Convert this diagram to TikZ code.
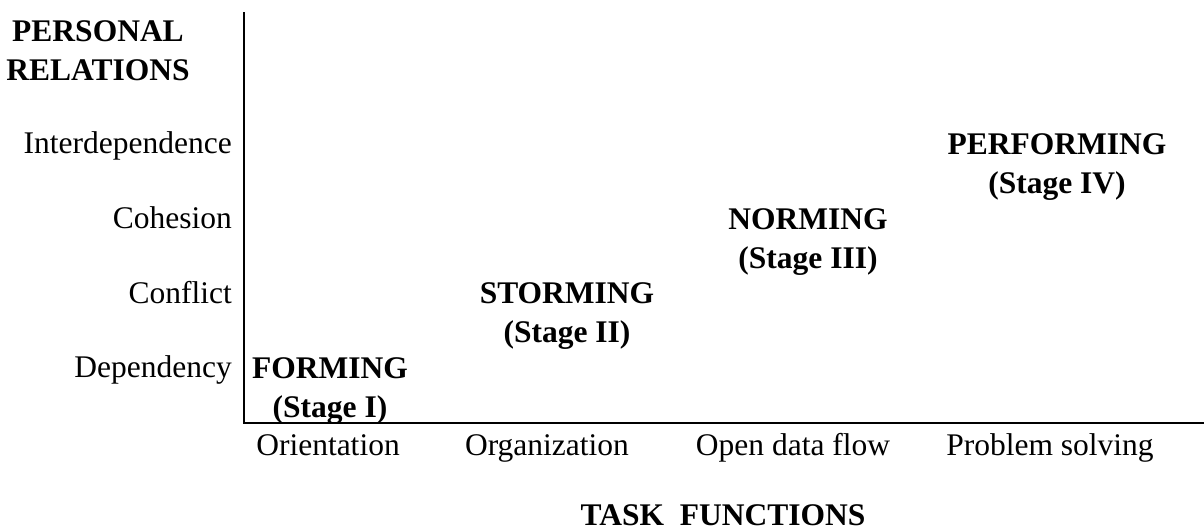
\documentclass[tikz,border=0pt]{standalone}
\usepackage{fontspec}
\setmainfont{Liberation Serif}[BoldFont={Liberation Serif Bold}, ItalicFont={Liberation Serif Italic}]
\usepackage{tikz}
\usetikzlibrary{calc}
\tikzstyle{lbl} = [inner sep=0pt, font=\fontsize{31.5}{39}\selectfont]
\tikzstyle{stage} = [lbl, align=center, anchor=north, font=\fontsize{31.5}{39}\selectfont\bfseries]
\tikzset{
  % axis styles
  axis/.style={draw, line width=2pt},
  % label styles
  level/.style={lbl, anchor=base east},
  task/.style={lbl, anchor=base},
}
\begin{document}
\begin{tikzpicture}[x=1pt, y=-1pt]
        \useasboundingbox (0,0) rectangle (1204,531);
        % axes
        \coordinate (ytop) at (244,12);
        \coordinate (orig) at (244,423);
        \coordinate (xend) at (1204,423);
        \draw[axis] (ytop) -- (orig) -- (xend);
        % personal relations
        \node(yname)[stage] at (98,20) {PERSONAL\\RELATIONS};
        \node(interdep)[level] at (232,153) {Interdependence};
        \node(cohesion)[level] at (232,228) {Cohesion};
        \node(conflict)[level] at (232,303) {Conflict};
        \node(dependency)[level] at (232,377) {Dependency};
        % task functions
        \node(orient)[task] at (328,455) {Orientation};
        \node(organ)[task] at (547,455) {Organization};
        \node(dataflow)[task] at (793,455) {Open data flow};
        \node(solving)[task] at (1050,455) {Problem solving};
        \node(xname)[task, font=\fontsize{31.5}{39}\selectfont\bfseries] at (723,525) {TASK\ \ FUNCTIONS};
        % stages
        \node(forming)[stage] at (330,357) {FORMING\\(Stage I)};
        \node(storming)[stage] at (567,282) {STORMING\\(Stage II)};
        \node(norming)[stage] at (808,208) {NORMING\\(Stage III)};
        \node(performing)[stage] at (1057,133) {PERFORMING\\(Stage IV)};
    \end{tikzpicture}
\end{document}
